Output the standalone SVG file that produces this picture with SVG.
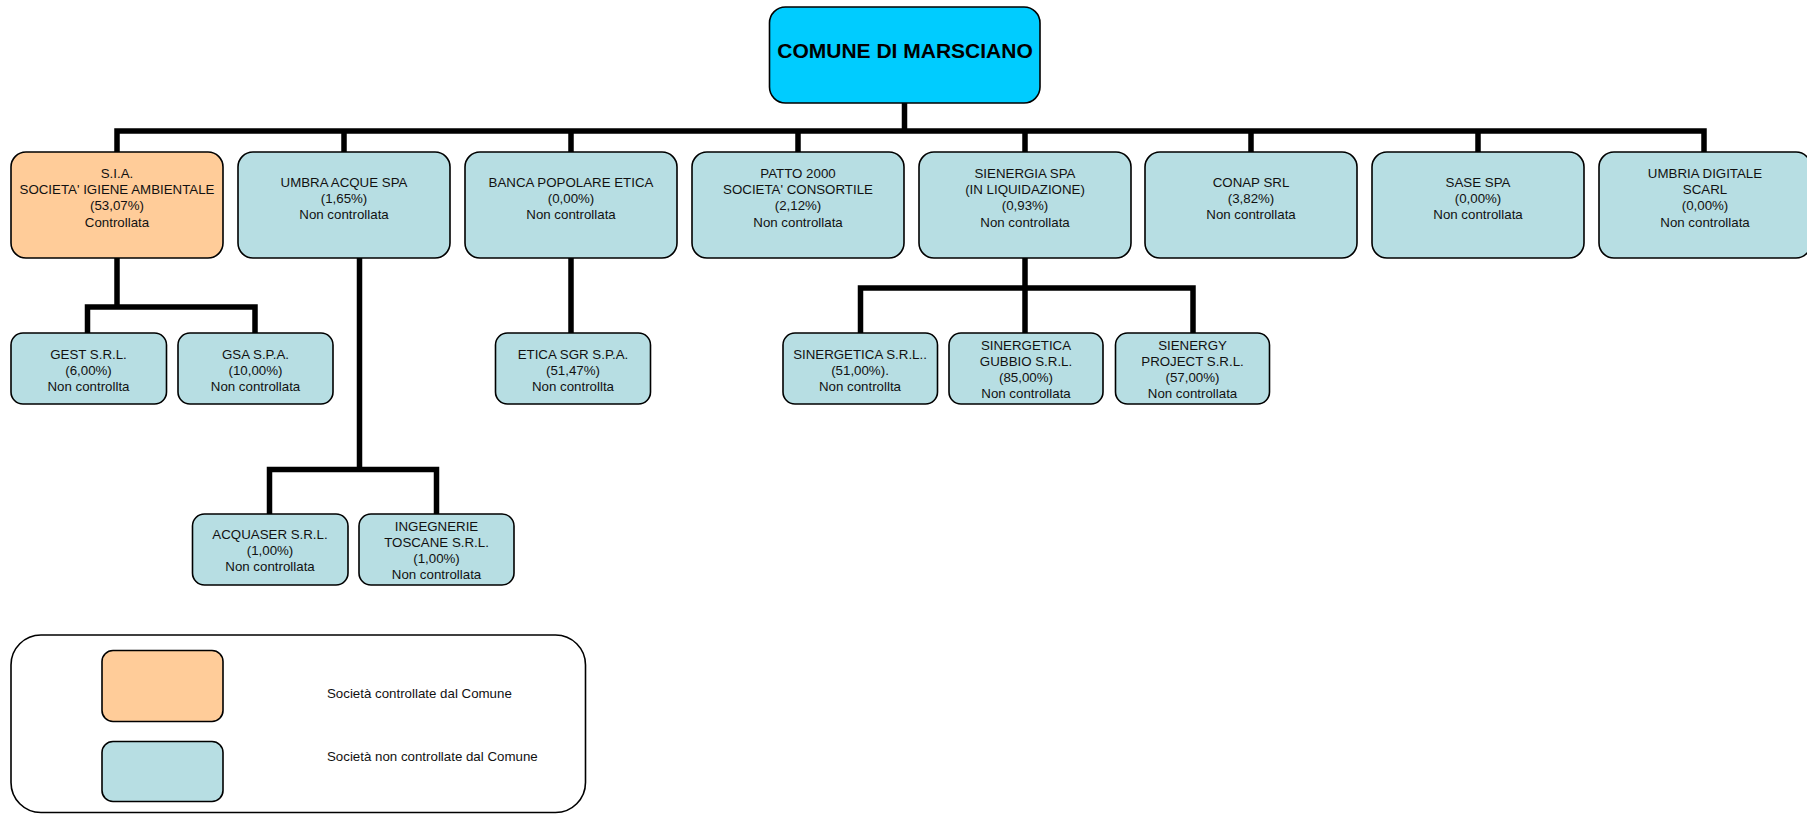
<svg xmlns="http://www.w3.org/2000/svg" width="1807" height="814" viewBox="0 0 1807 814">
<style>
.box{stroke:#000;stroke-width:1.6}
.ctl{fill:#FFCC99}
.nc{fill:#B7DEE3}
.root{fill:#00CCFF}
text{font-family:"Liberation Sans",Arial,sans-serif;font-size:13.3px;fill:#111;text-anchor:middle}
.title{font-size:21px;font-weight:bold;fill:#000}
.leg{text-anchor:start}
#connectors path{fill:none;stroke:#000;stroke-width:5.5;stroke-linecap:butt;stroke-linejoin:miter}
</style>
<rect width="1807" height="814" fill="#fff"/>
<g id="connectors">
<path d="M904.5 103V131"/>
<path d="M117 155V131H1704V155"/>
<path d="M344 131V152M571 131V152M798 131V152M1025 131V152M1251 131V152M1478 131V152"/>
<path d="M117 258V307"/>
<path d="M87.5 333V307H255V333"/>
<path d="M359.5 258V469.5"/>
<path d="M269.5 514V469.5H436.5V514"/>
<path d="M571 258V333"/>
<path d="M1025 258V333"/>
<path d="M860.5 333V288H1193V333"/>
</g>
<g id="comune"><rect class="box root" x="769.5" y="7" width="270.5" height="96" rx="16"/><text class="title" x="905" y="57.5">COMUNE DI MARSCIANO</text></g>
<g id="sia"><rect class="box ctl" x="11" y="152" width="212" height="106" rx="15"/><text x="117" y="178">S.I.A.</text><text x="117" y="194.2">SOCIETA' IGIENE AMBIENTALE</text><text x="117" y="210.4">(53,07%)</text><text x="117" y="226.6">Controllata</text></g>
<g id="umbra-acque"><rect class="box nc" x="238" y="152" width="212" height="106" rx="15"/><text x="344" y="186.8">UMBRA ACQUE SPA</text><text x="344" y="203">(1,65%)</text><text x="344" y="219.2">Non controllata</text></g>
<g id="banca-etica"><rect class="box nc" x="465" y="152" width="212" height="106" rx="15"/><text x="571" y="186.8">BANCA POPOLARE ETICA</text><text x="571" y="203">(0,00%)</text><text x="571" y="219.2">Non controllata</text></g>
<g id="patto2000"><rect class="box nc" x="692" y="152" width="212" height="106" rx="15"/><text x="798" y="178">PATTO 2000</text><text x="798" y="194.2">SOCIETA' CONSORTILE</text><text x="798" y="210.4">(2,12%)</text><text x="798" y="226.6">Non controllata</text></g>
<g id="sienergia"><rect class="box nc" x="919" y="152" width="212" height="106" rx="15"/><text x="1025" y="178">SIENERGIA SPA</text><text x="1025" y="194.2">(IN LIQUIDAZIONE)</text><text x="1025" y="210.4">(0,93%)</text><text x="1025" y="226.6">Non controllata</text></g>
<g id="conap"><rect class="box nc" x="1145" y="152" width="212" height="106" rx="15"/><text x="1251" y="186.8">CONAP SRL</text><text x="1251" y="203">(3,82%)</text><text x="1251" y="219.2">Non controllata</text></g>
<g id="sase"><rect class="box nc" x="1372" y="152" width="212" height="106" rx="15"/><text x="1478" y="186.8">SASE SPA</text><text x="1478" y="203">(0,00%)</text><text x="1478" y="219.2">Non controllata</text></g>
<g id="umbria-digitale"><rect class="box nc" x="1599" y="152" width="212" height="106" rx="15"/><text x="1705" y="178">UMBRIA DIGITALE</text><text x="1705" y="194.2">SCARL</text><text x="1705" y="210.4">(0,00%)</text><text x="1705" y="226.6">Non controllata</text></g>
<g id="gest"><rect class="box nc" x="11" y="333" width="155.5" height="71" rx="12"/><text x="88.5" y="358.6">GEST S.R.L.</text><text x="88.5" y="374.6">(6,00%)</text><text x="88.5" y="390.6">Non controllta</text></g>
<g id="gsa"><rect class="box nc" x="178" y="333" width="155" height="71" rx="12"/><text x="255.5" y="358.6">GSA S.P.A.</text><text x="255.5" y="374.6">(10,00%)</text><text x="255.5" y="390.6">Non controllata</text></g>
<g id="etica-sgr"><rect class="box nc" x="495.5" y="333" width="155" height="71" rx="12"/><text x="573" y="358.6">ETICA SGR S.P.A.</text><text x="573" y="374.6">(51,47%)</text><text x="573" y="390.6">Non controllta</text></g>
<g id="sinergetica"><rect class="box nc" x="783" y="333" width="154.5" height="71" rx="12"/><text x="860" y="358.6">SINERGETICA S.R.L..</text><text x="860" y="374.6">(51,00%).</text><text x="860" y="390.6">Non controllta</text></g>
<g id="sinergetica-gubbio"><rect class="box nc" x="949" y="333" width="154" height="71" rx="12"/><text x="1026" y="349.8">SINERGETICA</text><text x="1026" y="365.8">GUBBIO S.R.L.</text><text x="1026" y="381.8">(85,00%)</text><text x="1026" y="397.8">Non controllata</text></g>
<g id="sienergy-project"><rect class="box nc" x="1115.5" y="333" width="154" height="71" rx="12"/><text x="1192.5" y="349.8">SIENERGY</text><text x="1192.5" y="365.8">PROJECT S.R.L.</text><text x="1192.5" y="381.8">(57,00%)</text><text x="1192.5" y="397.8">Non controllata</text></g>
<g id="acquaser"><rect class="box nc" x="192.5" y="514" width="155.5" height="71" rx="12"/><text x="270" y="539.2">ACQUASER S.R.L.</text><text x="270" y="555.4">(1,00%)</text><text x="270" y="571">Non controllata</text></g>
<g id="ingegnerie-toscane"><rect class="box nc" x="359" y="514" width="155" height="71" rx="12"/><text x="436.5" y="530.8">INGEGNERIE</text><text x="436.5" y="546.9">TOSCANE S.R.L.</text><text x="436.5" y="563">(1,00%)</text><text x="436.5" y="579">Non controllata</text></g>
<g id="legend">
<rect x="11" y="635" width="574.5" height="177.5" rx="30" fill="#fff" stroke="#000" stroke-width="1.6"/>
<rect class="box ctl" x="102" y="650.5" width="121" height="71" rx="11"/>
<rect class="box nc" x="102" y="741.5" width="121" height="60" rx="11"/>
<text class="leg" x="327" y="698">Società controllate dal Comune</text>
<text class="leg" x="327" y="761">Società non controllate dal Comune</text>
</g>
</svg>
